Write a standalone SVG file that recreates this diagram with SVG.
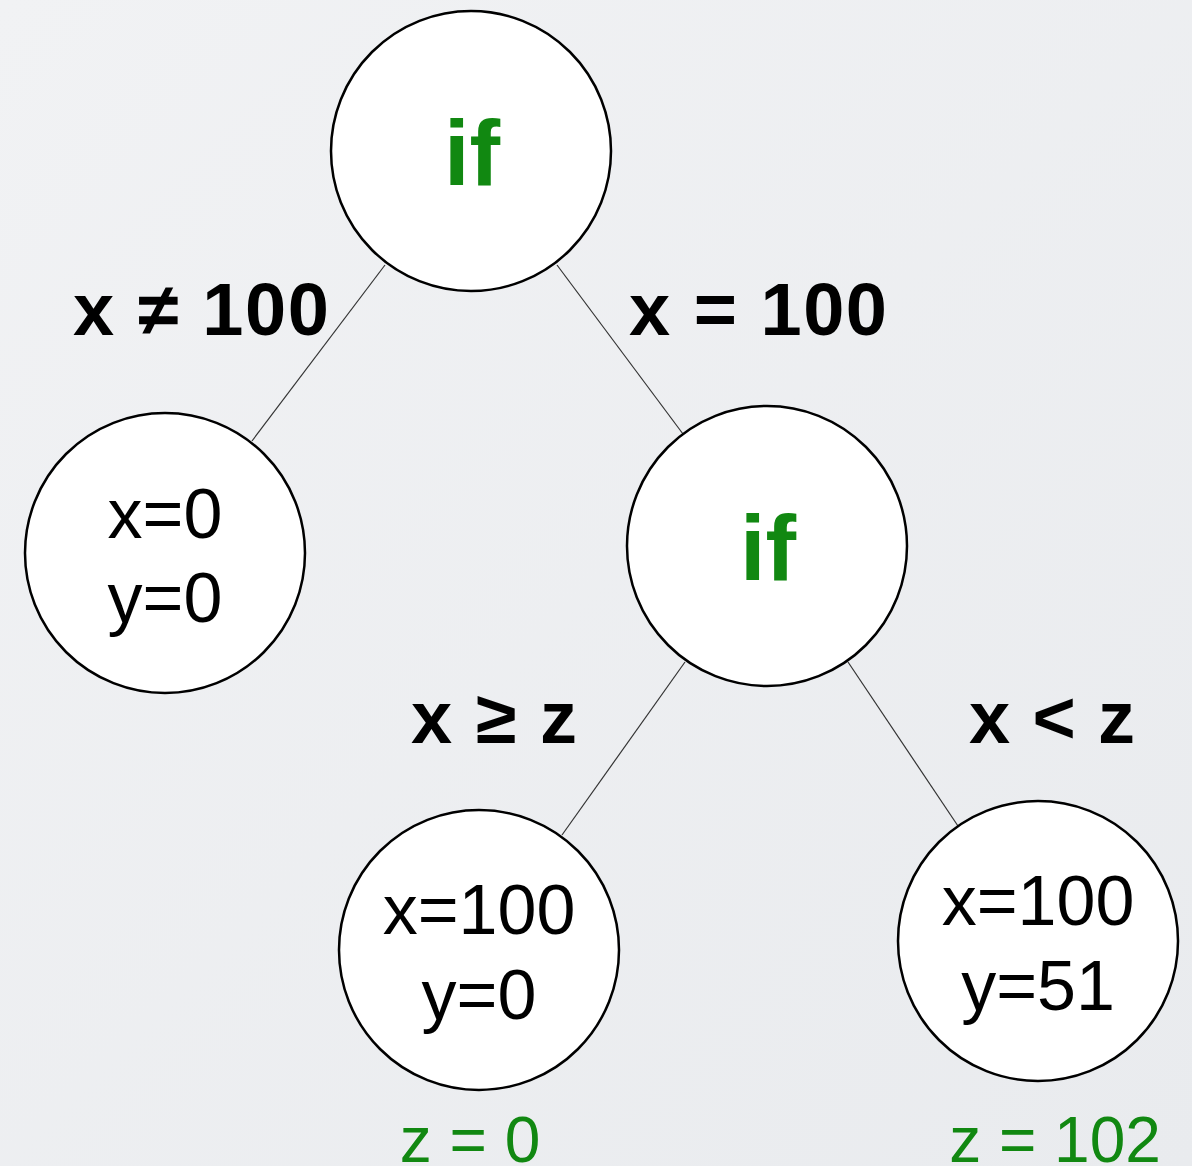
<svg xmlns="http://www.w3.org/2000/svg" width="1192" height="1166" viewBox="0 0 1192 1166">
<defs>
<linearGradient id="bg" x1="0" y1="0" x2="1" y2="1">
<stop offset="0" stop-color="#f1f2f4"/>
<stop offset="1" stop-color="#e9ebee"/>
</linearGradient>
<style>
.node{fill:#ffffff;stroke:#000;stroke-width:2.5}
.edge{stroke:#333;stroke-width:1.2;fill:none}
.kw{font-family:"Liberation Sans",Arial,sans-serif;font-weight:bold;font-size:92px;fill:#118811;text-anchor:middle}
.val{font-family:"Liberation Sans",Arial,sans-serif;font-size:70px;fill:#000;text-anchor:middle}
.lbl{font-family:"Liberation Sans",Arial,sans-serif;font-weight:bold;font-size:74px;fill:#000;text-anchor:middle}
.res{font-family:"Liberation Sans",Arial,sans-serif;font-size:64px;fill:#118811;text-anchor:middle}
</style>
</defs>
<rect width="1192" height="1166" fill="url(#bg)"/>
<g id="connectors">
<line class="edge" x1="385" y1="265" x2="252" y2="441"/>
<line class="edge" x1="557" y1="265" x2="683" y2="434"/>
<line class="edge" x1="685" y1="662" x2="562" y2="835"/>
<line class="edge" x1="848" y1="662" x2="958" y2="826"/>
</g>
<g id="edge-labels">
<text class="lbl" x="201" y="335" textLength="256" lengthAdjust="spacing">x ≠ 100</text>
<text class="lbl" x="758" y="335" textLength="258" lengthAdjust="spacing">x = 100</text>
<text class="lbl" x="494" y="743" textLength="166" lengthAdjust="spacing">x ≥ z</text>
<text class="lbl" x="1052" y="743" textLength="166" lengthAdjust="spacing">x &lt; z</text>
</g>
<g id="n-if1">
<circle class="node" cx="471" cy="151" r="140"/>
<text class="kw" x="472" y="185">if</text>
</g>
<g id="n-left">
<circle class="node" cx="165" cy="553" r="140"/>
<text class="val" x="165" y="538">x=0</text>
<text class="val" x="165" y="622">y=0</text>
</g>
<g id="n-if2">
<circle class="node" cx="767" cy="546" r="140"/>
<text class="kw" x="768" y="580">if</text>
</g>
<g id="n-bl">
<circle class="node" cx="479" cy="950" r="140"/>
<text class="val" x="479" y="934">x=100</text>
<text class="val" x="479" y="1019">y=0</text>
</g>
<g id="n-br">
<circle class="node" cx="1038" cy="941" r="140"/>
<text class="val" x="1038" y="925">x=100</text>
<text class="val" x="1038" y="1010">y=51</text>
</g>
<g id="results">
<text class="res" x="470" y="1162">z = 0</text>
<text class="res" x="1055" y="1162">z = 102</text>
</g>
</svg>
